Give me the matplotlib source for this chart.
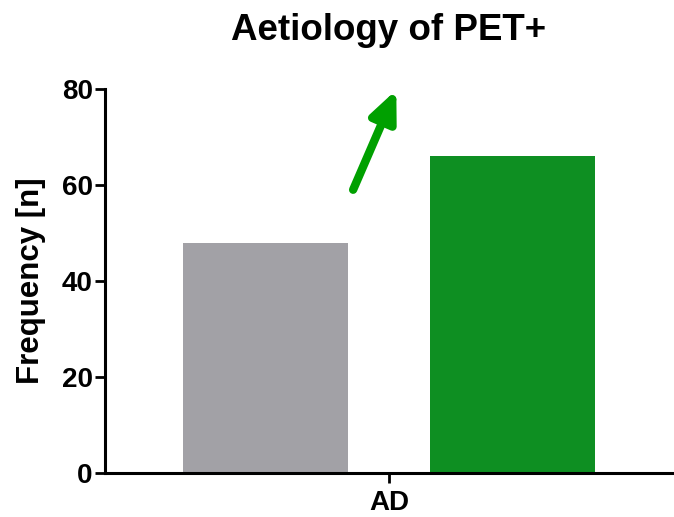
import matplotlib.pyplot as plt

plt.rcParams['font.family'] = ['Liberation Sans', 'DejaVu Sans']
plt.rcParams['font.weight'] = 'bold'

groups = ['AD']
series = ['group 1', 'group 2']
values = [48, 66]
colors = ['#a2a1a6', '#0e8f22']

fig = plt.figure(figsize=(6.74, 5.17), dpi=100)
ax = fig.add_axes([0.156, 0.085, 0.842, 0.743])

w = 0.4
offsets = [-0.3, 0.3]
for off, v, c in zip(offsets, values, colors):
    ax.bar(off, v, width=w, color=c, zorder=2)

ax.set_xlim(-0.69, 0.69)
ax.set_ylim(0, 80)
ax.set_yticks([0, 20, 40, 60, 80])
ax.set_xticks([0])
ax.set_xticklabels(groups)

for s in ['top', 'right']:
    ax.spines[s].set_visible(False)
for s in ['left', 'bottom']:
    ax.spines[s].set_linewidth(2.2)
ax.tick_params(axis='both', width=2, length=7, labelsize=20)
ax.tick_params(axis='y', pad=2)
ax.tick_params(axis='x', pad=5, labelsize=20)
for lab in ax.get_xticklabels() + ax.get_yticklabels():
    lab.set_fontweight('bold')

ax.set_ylabel('Frequency [n]', fontsize=22.5, fontweight='bold', labelpad=11)
ax.set_title('Aetiology of PET+', fontsize=26.5, fontweight='bold', pad=35)

# green arrow indicating increase
ax.annotate('', xy=(0.018, 79.8), xytext=(-0.087, 59),
            arrowprops=dict(arrowstyle='-|>,head_length=1.8,head_width=0.8',
                            color='#00a000', lw=6, shrinkA=0, shrinkB=0),
            annotation_clip=False)

fig.savefig('out.png', dpi=100)
